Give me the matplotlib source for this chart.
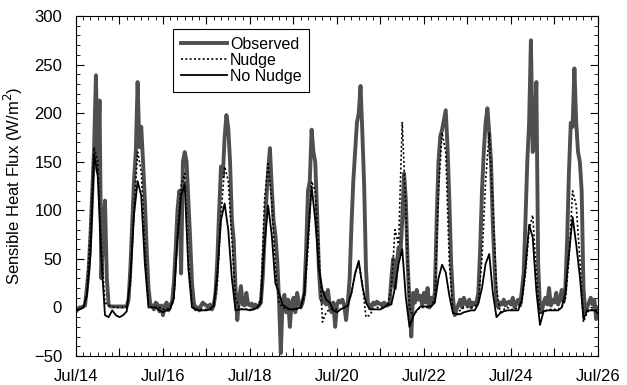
import numpy as np
import matplotlib
import matplotlib.pyplot as plt
from matplotlib.ticker import MultipleLocator, FuncFormatter

matplotlib.use("Agg")

plt.rcParams["font.family"] = ["Liberation Sans", "DejaVu Sans"]

# Observed flux, hourly values, one row per day starting Jul 14 00h
obs_days = [
    [-4, -2, 0, 0, 1, 2, 20, 40, 75, 120, 165, 239, 140, 213, 30, 75, 110, 30, 3, 1, 1, 1, 1, 1],
    [1, 1, 1, 1, 1, 8, 40, 85, 130, 160, 232, 165, 186, 150, 110, 60, 20, 3, 2, -2, 5, 3, -4, 2],
    [-8, 2, 5, -3, 3, 5, 25, 60, 100, 120, 35, 150, 160, 150, 110, 70, 25, 5, -2, 0, -3, 2, 5, 3],
    [2, 0, 3, -2, 2, 15, 50, 100, 145, 135, 175, 198, 185, 150, 90, 70, 20, -13, 10, 22, 3, 2, 15, 3],
    [2, 4, -1, 3, 0, 2, 5, 30, 70, 110, 140, 164, 124, 90, 75, 50, 8, -47, 7, 13, -5, 8, -20, 5],
    [10, -5, 15, 5, 0, 5, 15, 60, 120, 130, 183, 160, 150, 100, 40, 10, 5, 15, 3, 18, 2, -5, 5, -20],
    [3, 7, 5, 8, 2, -13, 5, 30, 85, 130, 160, 190, 200, 228, 180, 125, 40, 5, 2, 0, 5, 3, 6, 4],
    [4, 2, 5, 3, 2, 4, 30, 50, 20, 45, 62, 55, 90, 138, 110, 45, 5, -30, 15, 5, 18, 8, 12, 3],
    [15, 5, 20, 0, 10, 5, 15, 90, 150, 176, 183, 193, 203, 165, 110, 45, 10, -8, -2, 3, 8, 0, 10, 4],
    [2, 8, 0, 5, 3, 6, 15, 60, 120, 160, 190, 205, 180, 150, 85, 40, 5, 0, 5, 3, 8, 2, 5, 6],
    [3, 10, 0, 5, 8, 2, 17, 35, 90, 150, 190, 275, 160, 180, 232, 45, 0, -5, 5, 10, 3, 20, 2, 8],
    [5, 15, 3, 8, 18, 6, 20, 70, 140, 190, 186, 246, 190, 160, 150, 120, 20, -5, 0, 5, 10, 3, 8, -12],
]
obs_last = 0

# Nudged model run, 2-hourly values per day
nudge_days = [
    [-3, -2, 0, 15, 80, 165, 150, 60, 5, 2, 1, 0],
    [0, 0, 1, 25, 100, 160, 140, 60, 3, 0, 0, 0],
    [-2, -2, 0, 10, 75, 125, 138, 50, 2, -2, -2, -2],
    [-2, -2, 2, 25, 95, 145, 130, 70, 10, 0, -2, -2],
    [-2, -2, 0, 10, 110, 148, 110, 40, 5, 0, -2, -2],
    [-2, -2, 0, 10, 60, 130, 120, 60, -15, -5, -2, -2],
    [-2, -2, 0, 2, 15, 35, 45, 25, -10, -8, -2, 0],
    [0, 0, 2, 20, 80, 65, 191, 100, 0, -9, -3, 0],
    [0, 0, 1, 10, 120, 180, 160, 45, -5, -7, -3, 0],
    [0, 0, 1, 5, 50, 130, 180, 105, 20, -5, -2, 0],
    [-2, -2, 0, 5, 35, 80, 95, 35, -7, -4, -3, -2],
    [-2, -2, 0, 8, 50, 120, 105, 50, -15, -5, -2, -2],
]
nudge_last = -4

# Free-running model (no nudging), 2-hourly values per day
nonudge_days = [
    [-3, -2, 0, 12, 55, 158, 135, 50, -8, -10, -3, -8],
    [-10, -8, -4, 30, 95, 130, 115, 45, 0, 0, 0, -3],
    [-5, -3, -2, 10, 70, 115, 127, 40, 0, -2, -3, -3],
    [-3, -2, 2, 35, 90, 107, 80, 30, -3, -2, -2, -2],
    [-3, -2, 0, 5, 65, 105, 75, 25, 15, 3, 0, -2],
    [-2, -1, 0, 15, 70, 125, 90, 40, 18, 8, 5, -3],
    [-5, -2, 0, 2, 15, 35, 48, 22, 5, -2, -2, -2],
    [-2, 0, 3, 3, 20, 45, 60, 10, -20, -9, -3, 1],
    [1, 1, 1, 5, 30, 44, 36, 12, -6, -7, -7, -5],
    [-4, -3, -3, 4, 20, 45, 55, 15, -10, -6, -4, -3],
    [-3, -3, -3, 8, 40, 85, 72, 17, -18, -4, -3, -3],
    [-3, -3, 0, 15, 55, 93, 65, 32, -12, -3, -3, -3],
]
nonudge_last = -6

day_labels = ["Jul/14", "Jul/16", "Jul/18", "Jul/20", "Jul/22", "Jul/24", "Jul/26"]

observed = np.array([v for day in obs_days for v in day] + [obs_last], dtype=float)
nudge = np.array([v for day in nudge_days for v in day] + [nudge_last], dtype=float)
nonudge = np.array([v for day in nonudge_days for v in day] + [nonudge_last], dtype=float)

t_obs = 14 + np.arange(len(observed)) / 24.0
t_mod = 14 + np.arange(len(nudge)) * 2 / 24.0

fig = plt.figure(figsize=(6.27, 3.85), dpi=100)
ax = fig.add_axes([0.1212, 0.0753, 0.8325, 0.8831])

ax.plot(t_obs, observed, color="#4f4f4f", lw=2.8, label="Observed", zorder=2)
ax.plot(t_mod, nudge, color="black", lw=1.2, linestyle=(0, (1.2, 1.4)), label="Nudge", zorder=3)
ax.plot(t_mod, nonudge, color="black", lw=1.3, label="No Nudge", zorder=4)

ax.set_xlim(14, 26)
ax.set_ylim(-50, 300)

ax.xaxis.set_major_locator(MultipleLocator(1))
ax.xaxis.set_minor_locator(MultipleLocator(1 / 6))
ax.xaxis.set_major_formatter(
    FuncFormatter(lambda x, pos: day_labels[int(round(x - 14)) // 2] if int(round(x)) % 2 == 0 else "")
)
ax.yaxis.set_major_locator(MultipleLocator(50))
ax.yaxis.set_minor_locator(MultipleLocator(10))

ax.tick_params(which="both", direction="in", top=True, right=True, labelsize=12)
ax.tick_params(which="major", length=6, width=0.8)
ax.tick_params(which="minor", length=3, width=0.6)
ax.tick_params(axis="x", pad=9)
ax.tick_params(axis="y", pad=10)

ax.set_ylabel("Sensible Heat Flux (W/m$^2$)", fontsize=12)
ax.yaxis.set_label_coords(-0.098, 0.5)

leg = ax.legend(loc="upper left", bbox_to_anchor=(0.186, 0.962), fontsize=11.5,
                frameon=True, fancybox=False, framealpha=1, edgecolor="black",
                handlelength=2.9, handletextpad=0.15, labelspacing=0.05,
                borderpad=0.5, borderaxespad=0)
leg.get_frame().set_linewidth(0.8)

fig.savefig("out.png", dpi=100)
